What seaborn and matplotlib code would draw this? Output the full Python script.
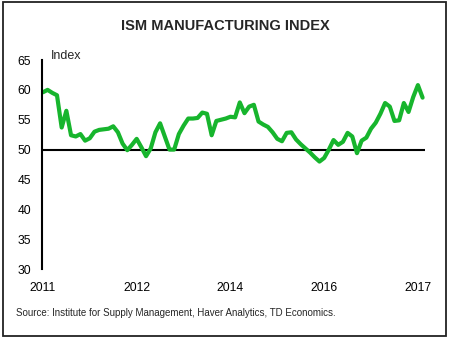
import numpy as np
import pandas as pd
import matplotlib
matplotlib.use("Agg")
import matplotlib.pyplot as plt
from matplotlib.patches import Rectangle
import seaborn as sns

# Monthly ISM manufacturing PMI, Jan 2011 - Oct 2017
months = pd.date_range("2011-01-01", "2017-10-01", freq="MS").strftime("%Y-%m").tolist()
pmi_2011 = [59.6, 60.0, 59.5, 59.1, 53.7, 56.5, 52.4, 52.2, 52.6, 51.5, 51.9, 53.0]
pmi_2012 = [53.3, 53.4, 53.5, 53.9, 52.9, 51.0, 49.9, 50.8, 51.8, 50.4, 48.9, 50.2]
pmi_2013 = [52.9, 54.4, 52.2, 50.0, 50.0, 52.6, 54.0, 55.2, 55.2, 55.3, 56.2, 56.0]
pmi_2014 = [52.4, 54.8, 55.0, 55.2, 55.5, 55.4, 57.9, 56.1, 57.2, 57.5, 54.7, 54.2]
pmi_2015 = [53.8, 52.9, 51.8, 51.4, 52.8, 52.9, 51.7, 50.9, 50.2, 49.5, 48.7, 48.0]
pmi_2016 = [48.6, 50.0, 51.6, 50.8, 51.3, 52.8, 52.2, 49.4, 51.5, 52.0, 53.5, 54.5]
pmi_2017 = [56.0, 57.8, 57.2, 54.8, 54.9, 57.8, 56.3, 58.8, 60.8, 58.7]
pmi = pmi_2011 + pmi_2012 + pmi_2013 + pmi_2014 + pmi_2015 + pmi_2016 + pmi_2017

tick_positions = [0, 20, 40, 60, 80]
tick_labels = ["2011", "2012", "2014", "2016", "2017"]
y_ticks = [30, 35, 40, 45, 50, 55, 60, 65]

df = pd.DataFrame({"month": months, "pmi": pmi})
df["idx"] = np.arange(len(df))

sns.set_style("white")
plt.rcParams["font.family"] = ["Liberation Sans", "DejaVu Sans"]

fig = plt.figure(figsize=(4.5, 3.41), dpi=100)
ax = fig.add_axes([0.0933, 0.211, 0.851, 0.613])

ax.axhline(50, color="black", lw=1.5, zorder=1)
sns.lineplot(data=df, x="idx", y="pmi", ax=ax, color="#17b52d", lw=3.0, zorder=2)

ax.set_xlim(-0.2, 81.5)
ax.set_ylim(30, 65)
ax.set_yticks(y_ticks)
ax.set_xticks(tick_positions)
ax.set_xticklabels(tick_labels)
ax.tick_params(axis="both", length=0, labelsize=8.7, colors="black")
ax.tick_params(axis="x", pad=9)
ax.tick_params(axis="y", pad=8)
ax.set_xlabel("")
ax.set_ylabel("")

for side in ["top", "right", "bottom"]:
    ax.spines[side].set_visible(False)
ax.spines["left"].set_color("black")
ax.spines["left"].set_linewidth(1.5)

fig.text(0.5, 0.925, "ISM MANUFACTURING INDEX", ha="center", va="center",
         fontsize=10.5, fontweight="bold")
fig.text(0.113, 0.836, "Index", ha="left", va="center", fontsize=9)
fig.text(0.036, 0.082, "Source: Institute for Supply Management, Haver Analytics, TD Economics.",
         ha="left", va="center", fontsize=7)

fig.patches.append(Rectangle((0.006, 0.016), 0.985, 0.977, transform=fig.transFigure,
                             fill=False, edgecolor="#222222", lw=1.3))

fig.savefig("out.png", dpi=100, facecolor="white")
